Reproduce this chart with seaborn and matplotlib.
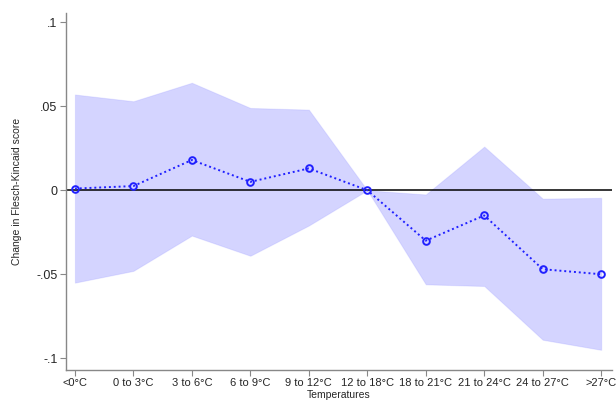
import numpy as np
import pandas as pd
import matplotlib.pyplot as plt
import seaborn as sns

temps = ["<0°C", "0 to 3°C", "3 to 6°C", "6 to 9°C", "9 to 12°C", "12 to 18°C",
         "18 to 21°C", "21 to 24°C", "24 to 27°C", ">27°C"]
coef = [0.001, 0.0025, 0.018, 0.005, 0.013, 0.0, -0.030, -0.015, -0.047, -0.050]
upper = [0.057, 0.053, 0.064, 0.049, 0.048, 0.0, -0.0025, 0.026, -0.005, -0.0045]
lower = [-0.055, -0.048, -0.027, -0.039, -0.021, 0.0, -0.056, -0.057, -0.089, -0.095]

df = pd.DataFrame({"pos": np.arange(len(temps)), "coef": coef, "upper": upper, "lower": lower})

sns.set_style("white")
plt.rcParams['font.family'] = ['Liberation Sans', 'DejaVu Sans']

fig = plt.figure(figsize=(6.16, 4.0), dpi=100)
ax = fig.add_axes([0.107, 0.075, 0.887, 0.892])

# intervalle de confiance
ax.fill_between(df["pos"], df["lower"], df["upper"], color="#0000ff", alpha=0.17, linewidth=0.8,
                edgecolor="#8080ff")
ax.axhline(0, color="black", linewidth=1.1, zorder=2)

sns.lineplot(data=df, x="pos", y="coef", ax=ax, color="#2020ff", linestyle=(0, (1, 1.5)), linewidth=1.4,
             marker="o", markersize=4.8, markerfacecolor="none", markeredgecolor="#2020ff",
             markeredgewidth=1.4, zorder=3)

ax.set_xlim(-0.154, 9.19)
ax.set_ylim(-0.107, 0.1054)
ax.set_xticks(df["pos"])
ax.set_xticklabels(temps, fontsize=8)
ax.set_yticks([-0.1, -0.05, 0, 0.05, 0.1])
ax.set_yticklabels(["-.1", "-.05", "0", ".05", ".1"], fontsize=9)
ax.set_xlabel("Temperatures", fontsize=7.5, labelpad=1)
ax.set_ylabel("Change in Flesch-Kincaid score", fontsize=7.5, labelpad=10)

for side in ["top", "right"]:
    ax.spines[side].set_visible(False)
for side in ["left", "bottom"]:
    ax.spines[side].set_color("#888888")
    ax.spines[side].set_linewidth(1.0)
ax.tick_params(axis="both", which="both", direction="out", length=4, width=0.8, color="#888888",
               left=True, bottom=True, pad=2)

fig.savefig("out.png", dpi=100)
